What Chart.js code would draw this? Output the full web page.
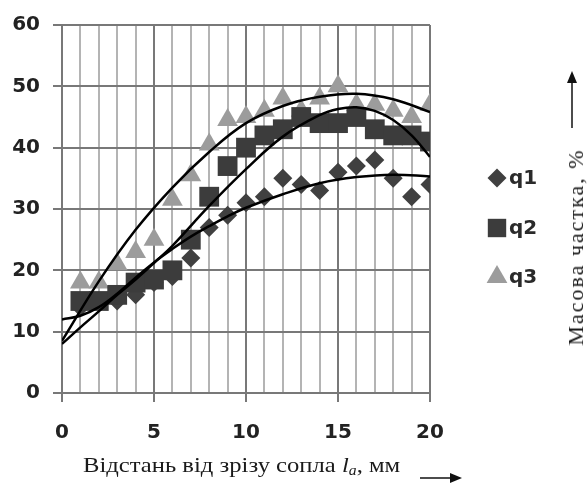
<!DOCTYPE html>
<html>
<head>
<meta charset="utf-8">
<script src="https://cdn.jsdelivr.net/npm/chart.js@4.4.0/dist/chart.umd.js"></script>
<style>
  body { margin: 0; background: #fff; }
  #wrap { position: relative; width: 587px; height: 486px; }
  #xTitle {
    position: absolute; left: 83px; top: 452px;
    font-family: "Liberation Serif", serif; font-size: 22px; color: #1a1a1a;
    white-space: nowrap; transform: scaleX(1.12); transform-origin: left center;
  }
  #xTitle sub { font-size: 14px; vertical-align: -3px; }
  #yTitle {
    position: absolute; left: 576px; top: 247px;
    transform: translate(-50%, -50%) rotate(-90deg);
    font-family: "Liberation Serif", serif; font-size: 22px; color: #1a1a1a;
    white-space: nowrap; letter-spacing: 2px;
  }
</style>
</head>
<body>
<div id="wrap">
  <canvas id="chart" width="587" height="486"></canvas>
  <div id="xTitle">Відстань від зрізу сопла <i>l</i><sub><i>a</i></sub>, мм</div>
  <div id="yTitle">Масова частка, %</div>
</div>
<script>
// Measured points (distance, mm)
const xValues = [1, 2, 3, 4, 5, 6, 7, 8, 9, 10, 11, 12, 13, 14, 15, 16, 17, 18, 19, 20];
const q1 = [14, 15, 15, 16, 18, 19, 22, 27, 29, 31, 32, 35, 34, 33, 36, 37, 38, 35, 32, 34];
const q2 = [15, 15, 16, 18, 18.5, 20, 25, 32, 37, 40, 42, 43, 45, 44, 44, 45, 43, 42, 42, 41];
const q3 = [18, 18, 21, 23, 25, 31.5, 35.5, 40.5, 44.5, 45, 46, 48, 46, 48, 50, 47, 47, 46, 45, 47];

// Trend curves
const trendX1 = [0, 1, 2, 3, 4, 5, 6, 7, 8, 9, 10, 12, 14, 16, 18, 20];
const trend1 = [12, 12.6, 14, 16.2, 18.8, 21.3, 23.5, 25.5, 27.2, 28.8, 30.2, 32.4, 34.2, 35.2, 35.6, 35.3];
const trendX2 = [0, 1, 2, 3, 4, 5, 6, 8, 10, 12, 14, 15, 16, 17, 18, 19, 20];
const trend2 = [8, 10.7, 13.3, 16, 18.5, 21.2, 24, 30.5, 36.5, 41.8, 45.3, 46.3, 46.6, 46, 44.5, 42, 38.5];
const trendX3 = [0, 2, 4, 6, 8, 10, 12, 14, 16, 18, 20];
const trend3 = [8.5, 18.2, 26.6, 33.5, 39.3, 44, 46.8, 48.3, 48.8, 47.9, 45.8];

const seriesNames = ['q1', 'q2', 'q3'];
const xTicks = [0, 5, 10, 15, 20];

const toPoints = (xs, ys) => xs.map((x, i) => ({ x: x, y: ys[i] }));

const markerStyles = [
  { pointStyle: 'rectRot', radius: 9.5, color: '#404040' },
  { pointStyle: 'rect', radius: 14, color: '#3c3c3c' },
  { pointStyle: 'triangle', radius: 12, color: '#9c9c9c' }
];

function trendSet(xs, ys) {
  return {
    data: toPoints(xs, ys),
    showLine: true,
    borderColor: '#000',
    borderWidth: 2.5,
    pointRadius: 0,
    tension: 0.4,
    order: 0
  };
}

function markerSet(i, ys, order) {
  const m = markerStyles[i];
  return {
    label: seriesNames[i],
    data: toPoints(xValues, ys),
    pointStyle: m.pointStyle,
    pointRadius: m.radius,
    backgroundColor: m.color,
    borderColor: m.color,
    borderWidth: 0,
    showLine: false,
    order: order
  };
}

const majorGrid = '#787878';
const minorGrid = '#b4b4b4';
const tickFont = { family: 'DejaVu Sans', weight: 'bold', size: 20 };

// Legend and arrows drawn by hand
const extrasPlugin = {
  id: 'extras',
  afterDraw(chart) {
    const ctx = chart.ctx;
    ctx.save();
    const legendY = [178, 228, 277];
    markerStyles.forEach((m, i) => {
      ctx.fillStyle = m.color;
      ctx.strokeStyle = m.color;
      Chart.helpers.drawPoint(ctx, {
        pointStyle: m.pointStyle,
        radius: m.pointStyle === 'rect' ? 13 : m.radius,
        borderWidth: 0
      }, 497, legendY[i]);
      ctx.fillStyle = '#2a2a2a';
      ctx.font = 'bold 20px "DejaVu Sans"';
      ctx.textBaseline = 'middle';
      ctx.fillText(seriesNames[i], 509, legendY[i] + 1);
    });

    ctx.strokeStyle = '#111';
    ctx.fillStyle = '#111';
    ctx.lineWidth = 1.5;
    // y arrow
    ctx.beginPath();
    ctx.moveTo(572, 128);
    ctx.lineTo(572, 78);
    ctx.stroke();
    ctx.beginPath();
    ctx.moveTo(572, 71);
    ctx.lineTo(567, 83);
    ctx.lineTo(577, 83);
    ctx.closePath();
    ctx.fill();
    // x arrow
    ctx.beginPath();
    ctx.moveTo(420, 478);
    ctx.lineTo(456, 478);
    ctx.stroke();
    ctx.beginPath();
    ctx.moveTo(462, 478);
    ctx.lineTo(450, 473);
    ctx.lineTo(450, 483);
    ctx.closePath();
    ctx.fill();
    ctx.restore();
  }
};

new Chart(document.getElementById('chart'), {
  type: 'scatter',
  data: {
    datasets: [
      trendSet(trendX1, trend1),
      trendSet(trendX2, trend2),
      trendSet(trendX3, trend3),
      markerSet(0, q1, 3),
      markerSet(1, q2, 1),
      markerSet(2, q3, 2)
    ]
  },
  options: {
    responsive: false,
    animation: false,
    layout: { padding: { left: 0, right: 157, top: 22, bottom: 0 } },
    plugins: {
      legend: { display: false },
      tooltip: { enabled: false }
    },
    scales: {
      x: {
        type: 'linear',
        min: 0,
        max: 20,
        afterFit: (scale) => { scale.height = 93; },
        afterBuildTicks: (scale) => {
          scale.ticks = [0].concat(xValues).map(v => ({ value: v }));
        },
        ticks: {
          autoSkip: false,
          maxRotation: 0,
          padding: 19,
          color: '#222',
          font: tickFont,
          callback: (v) => xTicks.includes(v) ? String(v) : ''
        },
        grid: {
          color: (c) => xTicks.includes(c.tick.value) ? majorGrid : minorGrid,
          lineWidth: 2,
          tickLength: 9,
          tickColor: (c) => xTicks.includes(c.tick.value) ? majorGrid : 'rgba(0,0,0,0)'
        },
        border: { color: majorGrid, width: 2 }
      },
      y: {
        min: 0,
        max: 60,
        afterFit: (scale) => { scale.width = 62; },
        ticks: {
          stepSize: 10,
          padding: 13,
          color: '#222',
          font: tickFont
        },
        grid: {
          color: majorGrid,
          lineWidth: 2,
          tickLength: 9,
          tickColor: majorGrid
        },
        border: { color: majorGrid, width: 2 }
      }
    }
  },
  plugins: [extrasPlugin]
});
</script>
</body>
</html>
